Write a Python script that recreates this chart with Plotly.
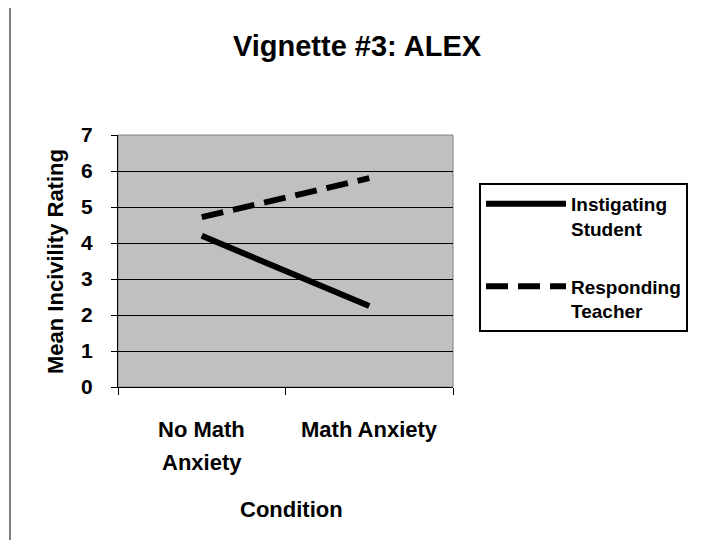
import plotly.graph_objects as go

categories = ["No Math Anxiety", "Math Anxiety"]
category_label_lines = [["No Math", "Anxiety"], ["Math Anxiety"]]
student = [4.2, 2.25]
teacher = [4.72, 5.8]
series_names = ["Instigating<br>Student", "Responding<br>Teacher"]
y_ticks = [0, 1, 2, 3, 4, 5, 6, 7]

FONT = "Liberation Sans, Arial, sans-serif"
BOLD = "bold"

fig = go.Figure()
fig.add_trace(go.Scatter(x=categories, y=student, mode="lines", name=series_names[0],
                         legendgroup="a", line=dict(color="black", width=6)))
fig.add_trace(go.Scatter(x=categories, y=teacher, mode="lines", name=series_names[1],
                         legendgroup="b", line=dict(color="black", width=6, dash="22px,10px")))

# figure is drawn 8px in from the window edge (page body margin)
W, H = 705, 545
L, T = 110, 127
PW, PH = 335, 252
R = W - L - PW
B = H - T - PH


def px(win_x):
    return (win_x - 118) / PW


def py(win_y):
    return (387 - win_y) / PH


fig.update_layout(
    width=W, height=H,
    margin=dict(l=L, r=R, t=T, b=B, autoexpand=False),
    paper_bgcolor="white",
    plot_bgcolor="#C0C0C0",
    font=dict(family=FONT, color="black", size=20, weight=BOLD),
    title=dict(text="Vignette #3: ALEX", x=349 / W, xanchor="center", xref="container",
               y=1 - 38 / H, yref="container", yanchor="middle",
               font=dict(size=29, family=FONT, weight=BOLD)),
    xaxis=dict(
        type="category", range=[-0.5, 1.5], tickson="boundaries",
        ticks="outside", ticklen=7, tickcolor="black", tickwidth=1,
        showline=True, linecolor="black", linewidth=1,
        showgrid=False, zeroline=False, showticklabels=False,
    ),
    yaxis=dict(
        range=[0, 7], tickvals=y_ticks, ticks="outside", ticklen=6, tickcolor="black",
        showline=True, linecolor="black", linewidth=1,
        showgrid=True, gridcolor="black", gridwidth=1, zeroline=False,
        tickfont=dict(size=21, family=FONT, weight=BOLD), ticklabelstandoff=14,
    ),
    legend=dict(
        x=px(479), y=py(183), xanchor="left", yanchor="top",
        bordercolor="black", borderwidth=2, bgcolor="white",
        font=dict(size=19, family=FONT, weight=BOLD), itemwidth=80,
        tracegroupgap=30, valign="top",
    ),
    showlegend=True,
)

# category labels under the axis
for cat, lines in zip(categories, category_label_lines):
    for i, line in enumerate(lines):
        fig.add_annotation(x=cat, xref="x", y=py(429 + 33 * i), yref="paper",
                           text=line, showarrow=False, xanchor="center", yanchor="middle",
                           font=dict(size=22, family=FONT, weight=BOLD))

# axis titles
fig.add_annotation(x=px(291), xref="paper", y=py(509), yref="paper", text="Condition",
                   showarrow=False, xanchor="center", yanchor="middle",
                   font=dict(size=22, family=FONT, weight=BOLD))
fig.add_annotation(x=px(55), xref="paper", y=py(262), yref="paper",
                   text="Mean Incivility Rating", textangle=-90,
                   showarrow=False, xanchor="center", yanchor="middle",
                   font=dict(size=22, family=FONT, weight=BOLD))

# gray border of plot area (top and right)
fig.add_shape(type="rect", xref="paper", yref="paper", x0=0, y0=0, x1=1, y1=1,
              line=dict(color="#808080", width=1), layer="below")
# left frame line of the image
fig.add_shape(type="line", xref="paper", yref="paper",
              x0=px(10), x1=px(10), y0=py(0), y1=py(540),
              line=dict(color="black", width=1))

fig.write_html("out.html")
